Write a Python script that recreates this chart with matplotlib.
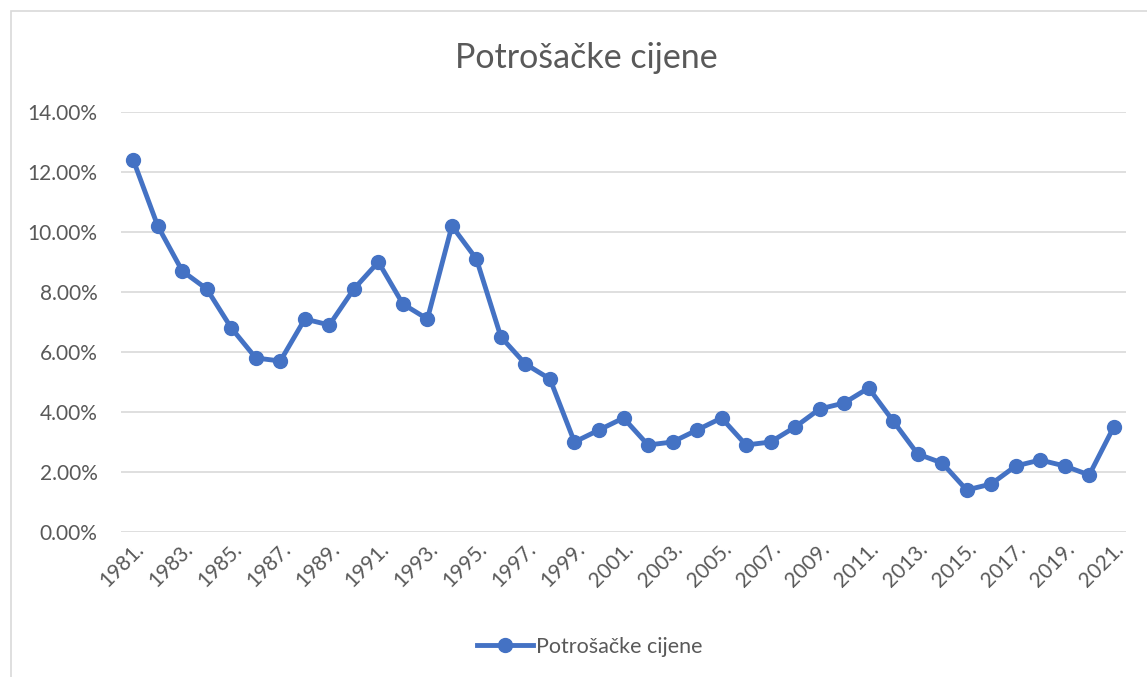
import matplotlib
matplotlib.use("Agg")
import matplotlib.pyplot as plt
import matplotlib.ticker as ticker
from matplotlib.patches import Rectangle

# Data
years = list(range(1981, 2022))
values = [
    12.4, 10.2, 8.7, 8.1, 6.8, 5.8, 5.7, 7.1, 6.9, 8.1,
    9.0, 7.6, 7.1, 10.2, 9.1, 6.5, 5.6, 5.1, 3.0, 3.4,
    3.8, 2.9, 3.0, 3.4, 3.8, 2.9, 3.0, 3.5, 4.1, 4.3,
    4.8, 3.7, 2.6, 2.3, 1.4, 1.6, 2.2, 2.4, 2.2, 1.9,
    3.5,
]
series_name = "Potrošačke cijene"
title = "Potrošačke cijene"

LINE_COLOR = "#4472C4"
TEXT_COLOR = "#595959"
GRID_COLOR = "#D9D9D9"

plt.rcParams["font.family"] = ["Lato", "DejaVu Sans"]

W, H = 1147, 677
fig = plt.figure(figsize=(W / 100, H / 100), dpi=100)

# chart border
fig.patches.append(Rectangle((11 / W, -0.01), 1.1, 1 - 11 / H + 0.01, transform=fig.transFigure,
                             fill=False, edgecolor=GRID_COLOR, linewidth=1.2))

ax = fig.add_axes([121 / W, (H - 532) / H, (1126 - 121) / W, (532 - 112) / H])

x = list(range(len(years)))
ax.plot(x, [v / 100 for v in values], "o-", color=LINE_COLOR, linewidth=3.5,
        markersize=10, label=series_name)

ax.set_xlim(-0.5, len(years) - 0.5)
ax.set_ylim(0, 0.14)
ax.yaxis.set_major_locator(ticker.MultipleLocator(0.02))
ax.yaxis.set_major_formatter(ticker.FuncFormatter(lambda v, p: f"{v * 100:.2f}%"))

ax.set_xticks(x[::2])
ax.set_xticklabels([f"{y}." for y in years[::2]], rotation=45, ha="right",
                   rotation_mode="anchor")

ax.grid(True, axis="y", color=GRID_COLOR, linewidth=1.2)
ax.set_axisbelow(True)
for s in ax.spines.values():
    s.set_visible(False)
ax.tick_params(axis="both", length=0, labelsize=15, colors=TEXT_COLOR)
ax.tick_params(axis="y", pad=17)
ax.tick_params(axis="x", pad=5)

fig.text(586 / W, 1 - 58 / H, title, ha="center", va="center",
         fontsize=24.5, color=TEXT_COLOR)

leg = fig.legend(loc="center", bbox_to_anchor=(590 / W, 1 - 647 / H), frameon=False,
                 fontsize=15.5, handlelength=2.6, handletextpad=0.15)
for t in leg.get_texts():
    t.set_color(TEXT_COLOR)

fig.savefig("out.png", dpi=100)
